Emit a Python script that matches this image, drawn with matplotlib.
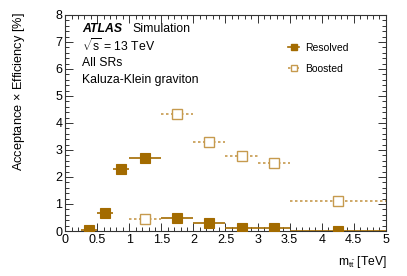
import matplotlib
matplotlib.use("Agg")
import matplotlib.pyplot as plt
from matplotlib.ticker import MultipleLocator
from matplotlib.lines import Line2D

plt.rcParams['font.family'] = ['Liberation Sans', 'DejaVu Sans']
plt.rcParams['mathtext.fontset'] = 'custom'
plt.rcParams['mathtext.rm'] = 'Liberation Sans'
plt.rcParams['mathtext.it'] = 'Liberation Sans:italic'

# Resolved
res_lo = [0.25, 0.5, 0.75, 1.0, 1.5, 2.0, 2.5, 3.0, 3.5]
res_hi = [0.5, 0.75, 1.0, 1.5, 2.0, 2.5, 3.0, 3.5, 5.0]
res_val = [0.05, 0.66, 2.31, 2.69, 0.47, 0.28, 0.10, 0.10, 0.01]
res_err = [0.02, 0.04, 0.06, 0.06, 0.03, 0.03, 0.02, 0.02, 0.01]

# Boosted
bst_lo = [1.0, 1.5, 2.0, 2.5, 3.0, 3.5]
bst_hi = [1.5, 2.0, 2.5, 3.0, 3.5, 5.0]
bst_val = [0.44, 4.33, 3.30, 2.79, 2.52, 1.11]
bst_err = [0.04, 0.16, 0.10, 0.08, 0.08, 0.05]

x_ticks = [0, 0.5, 1, 1.5, 2, 2.5, 3, 3.5, 4, 4.5, 5]
x_ticklabels = ['0', '0.5', '1', '1.5', '2', '2.5', '3', '3.5', '4', '4.5', '5']
y_ticks = [0, 1, 2, 3, 4, 5, 6, 7, 8]

c_res = '#A36B00'
c_bst = '#C69A4E'

fig = plt.figure(figsize=(4.07, 2.76), dpi=100)
ax = fig.add_axes([0.16, 0.163, 0.788, 0.783])

def centers(lo, hi):
    return [(a + b) / 2 for a, b in zip(lo, hi)], [(b - a) / 2 for a, b in zip(lo, hi)]

rx, rxe = centers(res_lo, res_hi)
bx, bxe = centers(bst_lo, bst_hi)

eb = ax.errorbar(bx, bst_val, xerr=bxe, yerr=bst_err, fmt='s', ms=6.5,
                 mfc='white', mec=c_bst, mew=1.0, ecolor=c_bst, elinewidth=1.2,
                 capsize=0, zorder=3)
eb[2][0].set_linestyle((0, (1.5, 1.5)))
ax.errorbar(rx, res_val, xerr=rxe, yerr=res_err, fmt='s', ms=6.5,
            mfc=c_res, mec=c_res, mew=0.8, ecolor=c_res, elinewidth=1.2,
            capsize=0, zorder=4)

ax.set_xlim(0, 5)
ax.set_ylim(0, 8)
ax.set_xticks(x_ticks)
ax.set_xticklabels(x_ticklabels)
ax.set_yticks(y_ticks)
ax.set_yticklabels([str(v) for v in y_ticks])
ax.xaxis.set_minor_locator(MultipleLocator(0.1))
ax.yaxis.set_minor_locator(MultipleLocator(0.2))
ax.tick_params(which='both', direction='in', top=True, right=True, labelsize=9, width=0.7, color='#333333')
ax.tick_params(which='major', length=6, pad=2)
ax.tick_params(which='minor', length=3)
for s in ax.spines.values():
    s.set_linewidth(0.8)
    s.set_color('#333333')

fig.text(19/407, 1 - 12/276, 'Acceptance $\\times$ Efficiency [%]', rotation=90,
         ha='center', va='top', fontsize=9.2)
fig.text(387/407, 1 - 262/276, r'm$_{\mathrm{t\bar{t}}}$ [TeV]', ha='right', va='center', fontsize=8.7)

fs = 8.8
fig.text(82/407, 1 - 29/276, 'ATLAS', fontsize=fs, fontweight='bold', style='italic', va='center')
fig.text(132/407, 1 - 29/276, 'Simulation', fontsize=fs, va='center')
fig.text(82/407, 1 - 46/276, r'$\sqrt{\mathrm{s}}$ = 13 TeV', fontsize=fs, va='center')
fig.text(82/407, 1 - 63/276, 'All SRs', fontsize=fs, va='center')
fig.text(82/407, 1 - 80/276, 'Kaluza-Klein graviton', fontsize=fs, va='center')

h_res = Line2D([], [], color=c_res, marker='s', ms=5, mfc=c_res, mec=c_res, lw=1.2)
h_bst = Line2D([], [], color=c_bst, marker='s', ms=5, mfc='white', mec=c_bst, lw=1.2, ls=(0, (1.5, 1.5)))
leg = ax.legend([h_res, h_bst], ['Resolved', 'Boosted'], loc='upper left',
                bbox_to_anchor=(0.665, 0.915), frameon=False, fontsize=7.5,
                handlelength=1.1, handletextpad=0.6, labelspacing=1.05)

fig.savefig('out.png', dpi=100)
